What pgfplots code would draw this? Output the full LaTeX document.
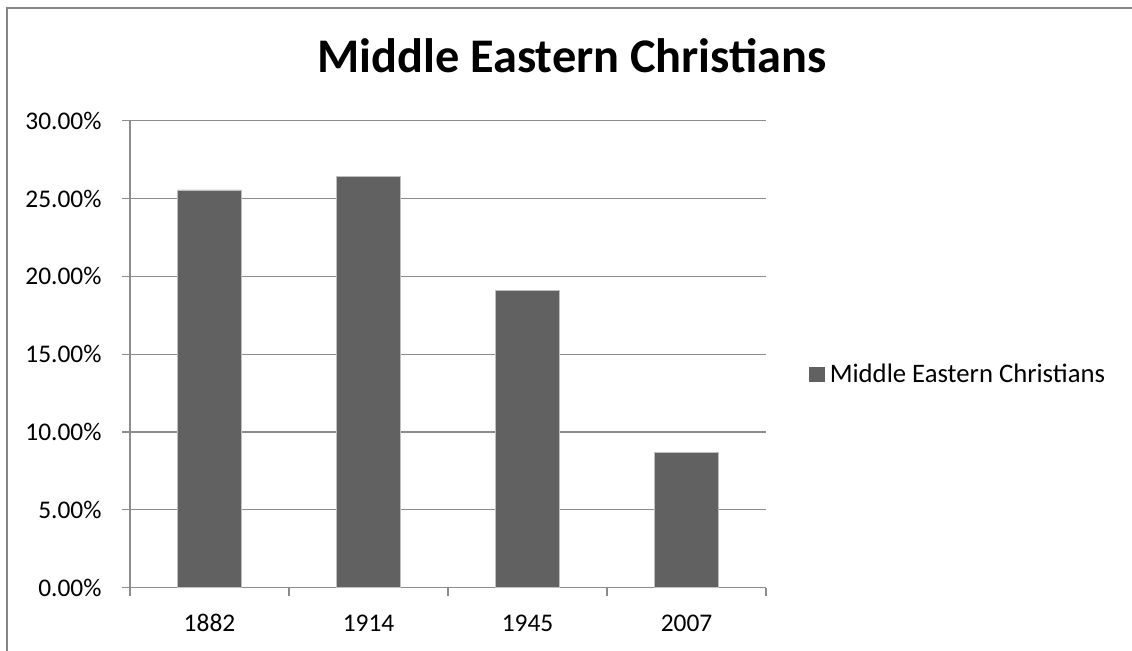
\documentclass[border=0pt]{standalone}
\usepackage{fontspec}
\setmainfont{Carlito}
\usepackage{pgfplots}
\pgfplotsset{compat=1.18}
\definecolor{barc}{RGB}{97,97,97}
\definecolor{gridc}{RGB}{140,140,140}
\definecolor{bordc}{RGB}{134,134,134}
\begin{document}
\begin{tikzpicture}
\useasboundingbox (0,0) rectangle (1132bp,651bp);
\fill[white] (0,0) rectangle (1132bp,651bp);
\draw[bordc, line width=1.3bp] (7bp,0) -- (7bp,643bp) -- (1133bp,643bp);
\node[anchor=base, font=\fontsize{48.5}{52}\selectfont\bfseries] at (572bp,578.5bp) {Middle Eastern Christians};
\begin{axis}[
  at={(130bp,63.3bp)}, anchor=south west,
  width=636bp, height=467bp, scale only axis,
  xmin=-0.5, xmax=3.5, ymin=0, ymax=30,
  axis lines*=left,
  axis line style={gridc, line width=1.2bp},
  ytick={0,5,...,30}, ymajorgrids,
  grid style={gridc, line width=1.2bp},
  xtick={-0.5,0.5,1.5,2.5,3.5}, xticklabels={},
  extra x ticks={0,1,2,3},
  extra x tick labels={\mbox{1882},\mbox{1914},\mbox{1945},\mbox{2007}},
  extra x tick style={major tick length=0pt, grid=none,
    xticklabel style={anchor=base, inner sep=0pt, text height=, text depth=, yshift=-44bp}},
  tick align=outside, major tick length=8bp,
  tick style={gridc, line width=1.2bp},
  tick label style={font=\fontsize{25.5}{30}\selectfont},
  yticklabel style={anchor=east, xshift=-17bp},
  yticklabel={\pgfmathprintnumber[fixed,fixed zerofill,precision=2]{\tick}\%},
  /pgf/number format/assume math mode=true,
  ybar, bar width=64bp,
  legend style={at={(1,0.458)}, anchor=west, xshift=40bp, draw=none, fill=none,
    font=\fontsize{26.8}{30}\selectfont},
  legend image code/.code={\fill[barc] (0bp,-7bp) rectangle (15bp,7bp);},
]
\addplot[fill=barc, draw=gray!50, line width=0.6bp] coordinates {(0,25.55) (1,26.43) (2,19.11) (3,8.69)};
\legend{\hspace{3bp}Middle Eastern Christians}
\end{axis}
\end{tikzpicture}
\end{document}
